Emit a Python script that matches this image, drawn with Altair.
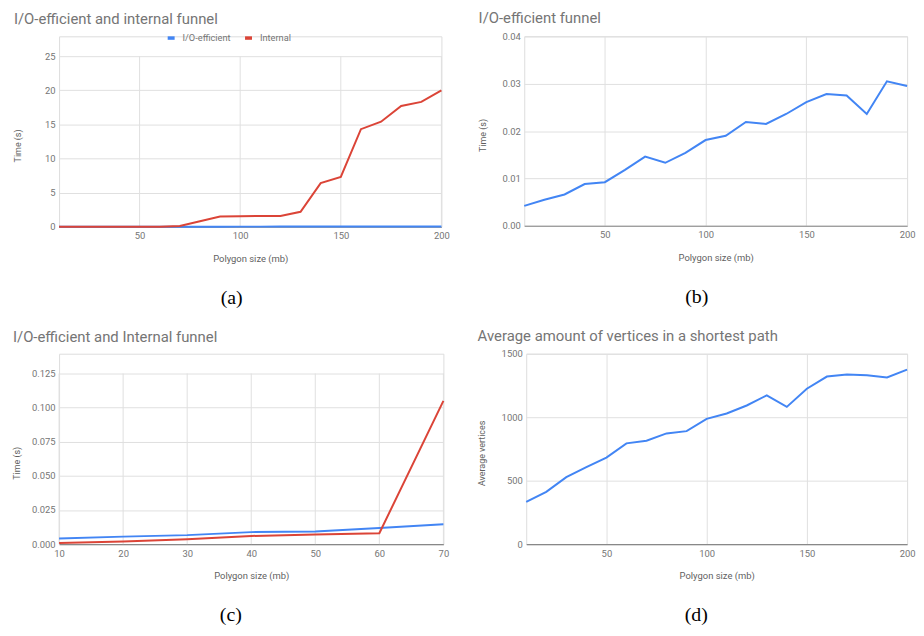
import altair as alt
import pandas as pd

# ---------------- data ----------------
sizes = [10, 20, 30, 40, 50, 60, 70, 80, 90, 100, 110, 120, 130, 140, 150, 160, 170, 180, 190, 200]
io_time = [0.0042, 0.0055, 0.0066, 0.0088, 0.0092, 0.0118, 0.0146, 0.0133, 0.0154, 0.0181,
           0.0190, 0.0219, 0.0215, 0.0236, 0.0261, 0.0278, 0.0275, 0.0236, 0.0305, 0.0295]
internal_time = [0.0008, 0.002, 0.0035, 0.006, 0.007, 0.008, 0.105, 0.8, 1.5, 1.55,
                 1.58, 1.58, 2.2, 6.4, 7.3, 14.3, 15.4, 17.7, 18.3, 20.0]
sizes_c = [10, 20, 30, 40, 50, 60, 70]
io_time_c = [0.0042, 0.0055, 0.0066, 0.0088, 0.0092, 0.0118, 0.0146]
internal_time_c = [0.0008, 0.002, 0.0035, 0.006, 0.007, 0.008, 0.105]
avg_vertices = [333, 412, 528, 606, 682, 794, 815, 872, 890, 987,
                1029, 1092, 1172, 1081, 1224, 1320, 1336, 1331, 1313, 1375]

x_ticks_long = [50, 100, 150, 200]
series_names = ["I/O-efficient", "Internal"]
series_colors = ["#4285f4", "#db4437"]
titles = ["I/O-efficient and internal funnel", "I/O-efficient funnel",
          "I/O-efficient and Internal funnel", "Average amount of vertices in a shortest path"]
captions = ["(a)", "(b)", "(c)", "(d)"]
x_title = "Polygon size (mb)"

FONT = "Roboto"
GRID = "#e0e0e0"
LABEL = "#757575"
H = 192          # common plot height of a row
GRID_H = 172     # height of the gridded area in the panels that carry a legend


def long_df(x, a, b):
    return pd.DataFrame({
        "size": list(x) + list(x),
        "value": list(a) + list(b),
        "series": [series_names[0]] * len(x) + [series_names[1]] * len(x),
        "order": [0] * len(x) + [1] * len(x),
    })


def panel(df, title, w, h, xdom, xticks, ytop, yticks, yfmt, ytitle, ytitle_x,
          legend_x=None, two=True):
    if two:
        # the gridded area is GRID_H tall, the legend sits in the band above it
        ydom = [0, ytop * h / GRID_H]
        title_y = (h - GRID_H) + GRID_H / 2 + 4
    else:
        ydom = [0, ytop]
        title_y = h / 2 + 4
    x = alt.X("size:Q",
              scale=alt.Scale(domain=xdom, nice=False, zero=False),
              axis=alt.Axis(values=xticks, title=x_title, labelFlush=False,
                            labelPadding=4, tickSize=0, ticks=False,
                            domain=True, domainColor="#888888", domainWidth=1.2,
                            grid=not two, gridColor=GRID,
                            labelFontSize=9.5, labelColor=LABEL, labelFont=FONT,
                            titleFont=FONT, titleFontSize=9.5, titleColor="#5f5f5f",
                            titleFontWeight="normal", titleY=32, titleBaseline="middle"))
    y = alt.Y("value:Q",
              scale=alt.Scale(domain=ydom, nice=False, zero=True),
              axis=alt.Axis(values=yticks, format=yfmt, title=ytitle,
                            labelPadding=4, tickSize=0, ticks=False, domain=False,
                            grid=True, gridColor=GRID,
                            labelFontSize=9.5, labelColor=LABEL, labelFont=FONT,
                            titleFont=FONT, titleFontSize=9, titleColor="#5f5f5f",
                            titleFontWeight="normal", titleX=ytitle_x, titleY=title_y,
                            titleAlign="center", titleBaseline="middle"))
    if two:
        color = alt.Color("series:N",
                          scale=alt.Scale(domain=series_names, range=series_colors),
                          legend=alt.Legend(orient="none", legendX=legend_x, legendY=-4,
                                            direction="horizontal", title=None,
                                            symbolType="stroke", symbolStrokeWidth=3.5,
                                            symbolSize=49, labelFontSize=9.3,
                                            labelFont=FONT, labelColor=LABEL,
                                            columnPadding=7, labelOffset=6))
        lines = alt.Chart(df).mark_line(strokeWidth=2).encode(
            x=x, y=y, color=color, detail="series:N", order="order:Q")
        # vertical grid lines limited to the gridded area (0 .. top tick)
        grid_df = pd.DataFrame({"size": xticks, "value": [ytop] * len(xticks),
                                "value0": [0] * len(xticks)})
        grid = alt.Chart(grid_df).mark_rule(color=GRID, strokeWidth=1).encode(
            x=x, y=y, y2="value0:Q")
        body = alt.layer(grid, lines)
        toff = 9
    else:
        body = alt.Chart(df).mark_line(strokeWidth=2).encode(
            x=x, y=y, color=alt.value(series_colors[0]))
        toff = 5
    return body.properties(
        width=w, height=h,
        title=alt.Title(title, anchor="start", frame="bounds", fontSize=15, font=FONT,
                        color=LABEL, fontWeight="normal", offset=toff))


def wrap(ch, cap):
    return alt.vconcat(ch, title=alt.Title(cap, orient="bottom", anchor="middle",
                                           font="Liberation Serif", fontSize=20,
                                           color="#000000", fontWeight="normal",
                                           offset=25))


df_a = long_df(sizes, io_time, internal_time)
df_b = pd.DataFrame({"size": sizes, "value": io_time})
df_c = long_df(sizes_c, io_time_c, internal_time_c)
df_d = pd.DataFrame({"size": sizes, "value": avg_vertices})

pa = panel(df_a, titles[0], 385.5, H, [10, 200], x_ticks_long, 25,
           [0, 5, 10, 15, 20, 25], "d", "Time (s)", -41.5, legend_x=107.5)
pb = panel(df_b, titles[1], 386, 191, [10, 200], x_ticks_long, 0.04,
           [0, 0.01, 0.02, 0.03, 0.04], ".2f", "Time (s)", -42, two=False)
pc = panel(df_c, titles[2], 387.5, H, [10, 70], sizes_c, 0.125,
           [0, 0.025, 0.05, 0.075, 0.1, 0.125], ".3f", "Time (s)", -42.5, legend_x=107.5)
pd_ = panel(df_d, titles[3], 384, H, [10, 200], x_ticks_long, 1500,
            [0, 500, 1000, 1500], "d", "Average vertices", -45, two=False)

chart = alt.vconcat(
    alt.hconcat(wrap(pa, captions[0]), wrap(pb, captions[1]), spacing=27),
    alt.hconcat(wrap(pc, captions[2]), wrap(pd_, captions[3]), spacing=27),
    spacing=20,
).properties(padding={"left": 4.5, "top": 0, "right": 0, "bottom": 0}).configure_view(
    stroke=None
).configure(background="white")

chart.save("out.html", embed_options={"renderer": "svg", "actions": False})
